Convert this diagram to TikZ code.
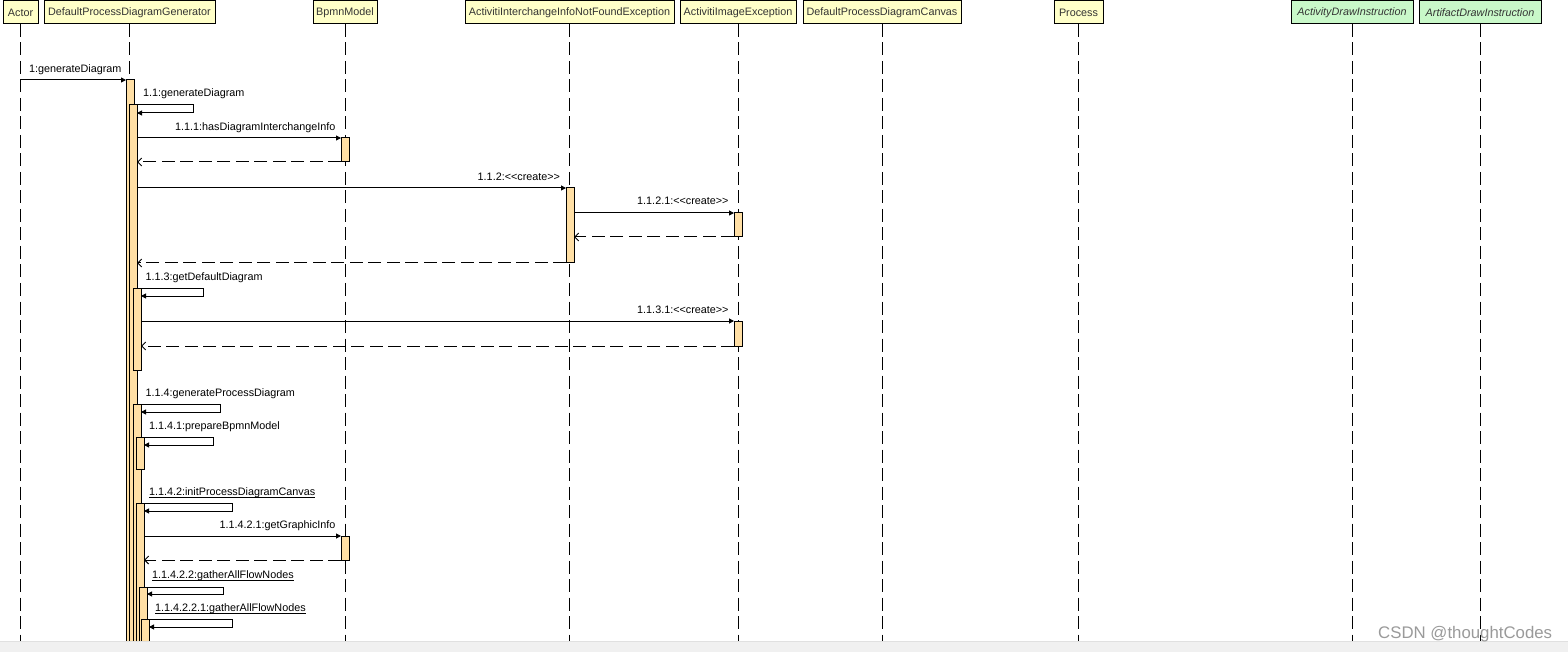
\documentclass[tikz,border=0pt]{standalone}
\usepackage{fontspec}
\setmainfont{Liberation Sans}
\usetikzlibrary{arrows.meta}
\definecolor{hdrfill}{HTML}{FFFFC8}
\definecolor{grnfill}{HTML}{C9F8C9}
\definecolor{actfill}{HTML}{FFDFA5}
\definecolor{hdrtext}{HTML}{333333}
\definecolor{barfill}{HTML}{F0F0F0}
\definecolor{barline}{HTML}{E0E0E0}
\definecolor{wmark}{HTML}{9A9A9A}
\newcommand\lblfnt{\fontsize{10.8}{12}\selectfont}
\newcommand\wmfnt{\fontsize{16.8}{18}\selectfont}
\tikzset{
  hdr/.style={draw=black, line width=1pt, fill=hdrfill, inner sep=0pt, outer sep=0pt,
    minimum height=23pt, anchor=north west, text=hdrtext, font=\lblfnt},
  grnhdr/.style={hdr, fill=grnfill, font=\lblfnt\itshape},
  lifeline/.style={line width=1pt, dash pattern=on 13pt off 5.5pt},
  act/.style={draw=black, line width=1pt, fill=actfill, inner sep=0pt, outer sep=0pt,
    minimum width=8pt, anchor=north west},
  msg/.style={line width=1pt, -{Triangle[length=5pt,width=5pt]}},
  ret/.style={line width=1pt, dash pattern=on 13pt off 5.5pt,
    -{Straight Barb[length=4pt,width=8pt,line width=1pt]}},
  lbl/.style={inner sep=0pt, outer sep=0pt, font=\lblfnt, text=black},
  uline/.style={line width=1pt}
}
\begin{document}
\begin{tikzpicture}[x=1pt,y=-1pt]
\useasboundingbox (0,0) rectangle (1568,652);
\fill[white] (0,0) rectangle (1568,652);

% headers
\node[hdr, minimum width=35pt]  (actor) at (3,1)    {\raisebox{-0.5pt}{Actor}};
\node[hdr, minimum width=171pt] (gen)   at (44,1)   {\raisebox{-0.5pt}{DefaultProcessDiagramGenerator}};
\node[hdr, minimum width=64pt]  (bpmn)  at (313,1)  {\raisebox{-0.5pt}{BpmnModel}};
\node[hdr, minimum width=209pt] (aiinf) at (465,1)  {\raisebox{-0.5pt}{ActivitiInterchangeInfoNotFoundException}};
\node[hdr, minimum width=116pt] (aie)   at (680,1)  {\raisebox{-0.5pt}{ActivitiImageException}};
\node[hdr, minimum width=158pt] (canv)  at (803,1)  {\raisebox{-0.5pt}{DefaultProcessDiagramCanvas}};
\node[hdr, minimum width=49pt]  (proc)  at (1054,1) {\raisebox{-0.5pt}{Process}};
\node[grnhdr, minimum width=122pt] (actdi) at (1291,1) {\raisebox{-0.5pt}{ActivityDrawInstruction}};
\node[grnhdr, minimum width=122pt] (artdi) at (1419,1) {\raisebox{-0.5pt}{ArtifactDrawInstruction}};

% lifelines
\foreach \n in {actor,gen,bpmn,aiinf,aie,canv,proc,actdi,artdi}{
  \coordinate (\n-end) at (\n.south |- {(0,646)});
  \draw[lifeline] (\n.south) -- (\n-end);
}

% activation bars
\node[act, minimum height=566pt] (a1) at (126,80) {};
\node[act, minimum height=541pt] (a2) at (129,105) {};
\node[act, minimum height=82pt]  (a3) at (133,288) {};
\node[act, minimum height=242pt] (a4) at (133,404) {};
\node[act, minimum height=32pt]  (a5) at (136,437) {};
\node[act, minimum height=143pt] (a6) at (136,503) {};
\node[act, minimum height=59pt]  (a7) at (139,587) {};
\node[act, minimum height=27pt]  (a8) at (141,619) {};
\node[act, minimum height=24pt]  (b1) at (341,138) {};
\node[act, minimum height=24pt]  (b2) at (341,536) {};
\node[act, minimum height=75pt]  (e1) at (566,188) {};
\node[act, minimum height=24pt]  (i1) at (734,213) {};
\node[act, minimum height=25pt]  (i2) at (734,321) {};

% messages
\draw[msg] (actor.south |- a1.north west) -- (a1.north west);
\draw[msg] (a2.north east) -- (193,105) -- (193,113) -- (a2.east |- {(0,113)});
\draw[msg] (a2.east |- b1.north west) -- (b1.north west);
\draw[ret] (b1.south west) -- (a2.east |- b1.south west);
\draw[msg] (a2.east |- e1.north west) -- (e1.north west);
\draw[msg] (e1.east |- i1.north west) -- (i1.north west);
\draw[ret] (i1.south west) -- (e1.east |- i1.south west);
\draw[ret] (e1.south west) -- (a2.east |- e1.south west);
\draw[msg] (a3.north east) -- (203,288) -- (203,296) -- (a3.east |- {(0,296)});
\draw[msg] (a3.east |- i2.north west) -- (i2.north west);
\draw[ret] (i2.south west) -- (a3.east |- i2.south west);
\draw[msg] (a4.north east) -- (220,404) -- (220,412) -- (a4.east |- {(0,412)});
\draw[msg] (a5.north east) -- (213,437) -- (213,445) -- (a5.east |- {(0,445)});
\draw[msg] (a6.north east) -- (232,503) -- (232,511) -- (a6.east |- {(0,511)});
\draw[msg] (a6.east |- b2.north west) -- (b2.north west);
\draw[ret] (b2.south west) -- (a6.east |- b2.south west);
\draw[msg] (a7.north east) -- (223,587) -- (223,594) -- (a7.east |- {(0,594)});
\draw[msg] (a8.north east) -- (232,619) -- (232,627) -- (a8.east |- {(0,627)});

% labels
\node[lbl, anchor=base west] (l1) at (29,73) {1:generateDiagram};
\node[lbl, anchor=base west] (l2) at (143,97) {1.1:generateDiagram};
\node[lbl, anchor=base east] (l3) at (335.5,131) {1.1.1:hasDiagramInterchangeInfo};
\node[lbl, anchor=base east] (l4) at (560,180.5) {1.1.2:<{}<create>{}>};
\node[lbl, anchor=base east] (l5) at (728.5,205) {1.1.2.1:<{}<create>{}>};
\node[lbl, anchor=base west] (l6) at (145.5,280) {1.1.3:getDefaultDiagram};
\node[lbl, anchor=base east] (l7) at (728.5,313) {1.1.3.1:<{}<create>{}>};
\node[lbl, anchor=base west] (l8) at (145.5,396) {1.1.4:generateProcessDiagram};
\node[lbl, anchor=base west] (l9) at (149,429) {1.1.4.1:prepareBpmnModel};
\node[lbl, anchor=base west] (l10) at (149,495) {1.1.4.2:initProcessDiagramCanvas};
\node[lbl, anchor=base east] (l11) at (335.5,528) {1.1.4.2.1:getGraphicInfo};
\node[lbl, anchor=base west] (l12) at (152,578.5) {1.1.4.2.2:gatherAllFlowNodes};
\node[lbl, anchor=base west] (l13) at (155,611) {1.1.4.2.2.1:gatherAllFlowNodes};
\draw[uline] ([yshift=-2pt]l10.base west) -- ([yshift=-2pt]l10.base east);
\draw[uline] ([yshift=-2pt]l12.base west) -- ([yshift=-2pt]l12.base east);
\draw[uline] ([yshift=-2.5pt]l13.base west) -- ([yshift=-2.5pt]l13.base east);

% bottom bar and watermark
\fill[barfill] (0,641) rectangle (1568,652);
\draw[barline, line width=1pt] (0,641) -- (1568,641);
\node[inner sep=0pt, anchor=base west, text=wmark, font=\wmfnt] (wm) at (1378,638) {CSDN @thoughtCodes};
\end{tikzpicture}
\end{document}
